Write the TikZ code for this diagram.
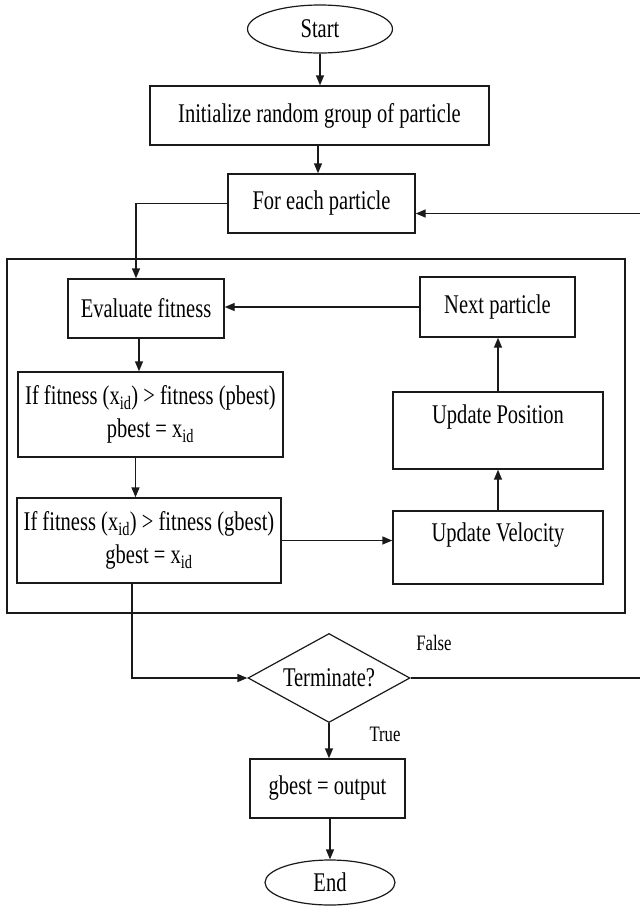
\documentclass[tikz,border=0pt]{standalone}
\usepackage{fontspec}
\setmainfont[FakeStretch=0.76]{Liberation Serif}
\usepackage{xcolor}
\usepackage{tikz}
\usetikzlibrary{arrows.meta,positioning,shapes.geometric}
\definecolor{psoLine}{HTML}{1A1A1A}
\tikzset{
  psobox/.style={draw=psoLine, fill=white, line width=1.4pt,
        align=center, inner sep=2pt,
        font=\fontsize{27}{33}\selectfont},
  psoterm/.style={draw=psoLine, fill=white, line width=1.2pt, ellipse,
        inner sep=0pt, font=\fontsize{27}{31}\selectfont},
  psodec/.style={draw=psoLine, fill=white, line width=1.2pt, diamond,
        aspect=1.8, inner sep=0pt, font=\fontsize{27}{31}\selectfont},
  psotext/.style={font=\fontsize{27}{31}\selectfont, inner sep=0pt},
  flow/.style={-{Triangle[length=10pt,width=8pt]}, line width=1.4pt, draw=psoLine},
  flab/.style={font=\fontsize{22}{26}\selectfont, inner sep=0pt}
}

\begin{document}
\begin{tikzpicture}[x=1pt, y=-1pt]
\useasboundingbox (0,0) rectangle (640,906);

% loop boundary
\node[draw=psoLine, line width=1.4pt, minimum width=618pt, minimum height=354pt,
      inner sep=0pt] (loop) at (316,436) {};

% start and setup
\node[psoterm, minimum width=145pt, minimum height=48pt] (start) at (320,29) {Start};
\node[psobox, minimum width=339pt, minimum height=59pt] (init) at (319.5,115.5)
      {Initialize random group of particle};
\node[psobox, minimum width=187pt, minimum height=59pt] (fep) at (321.5,203.5)
      {For each particle};

% left column
\node[psobox, minimum width=156pt, minimum height=59pt] (evalf) at (146,308.5)
      {Evaluate fitness};
\node[psobox, minimum width=265pt, minimum height=85pt] (pbest) at (150.5,414.5)
      {If fitness (x\textsubscript{id}) > fitness (pbest)\\pbest = x\textsubscript{id}};
\node[psobox, minimum width=264pt, minimum height=85pt] (gbest) at (149,540.5)
      {If fitness (x\textsubscript{id}) > fitness (gbest)\\gbest = x\textsubscript{id}};

% right column
\node[psobox, minimum width=155pt, minimum height=60pt] (nextp) at (497.5,307)
      {Next particle};
\node[psobox, minimum width=210pt, minimum height=77pt] (upos) at (498,430.5) {};
\node[psotext] (upostxt) at ([yshift=14pt]upos.center) {Update Position};
\node[psobox, minimum width=210pt, minimum height=73pt] (uvel) at (498,547.5) {};
\node[psotext] (uveltxt) at ([yshift=12pt]uvel.center) {Update Velocity};

% termination
\node[psodec, minimum width=162pt, minimum height=89pt] (term) at (329,678)
      {Terminate?};
\node[psobox, minimum width=155pt, minimum height=59pt] (outp) at (327.5,788.5)
      {gbest = output};
\node[psoterm, minimum width=130pt, minimum height=45pt] (endn) at (330,882.5) {End};

% branch labels
\node[flab] (lfalse) at (434,643) {False};
\node[flab] (ltrue) at (385,734) {True};

% flow
\draw[flow] (start.south) -- (start.south |- init.north);
\draw[flow] ([xshift=-1.5pt]init.south) -- ([xshift=-1.5pt]init.south |- fep.north);
\draw[flow] (fep.west) -| ([xshift=-10pt]evalf.north);
\draw[flow] ([xshift=-7pt]evalf.south) -- ([xshift=-7pt]evalf.south |- pbest.north);
\draw[flow] ([xshift=-15pt]pbest.south) -- ([xshift=-15pt]pbest.south |- gbest.north);
\draw[flow] (gbest.east) -- (gbest.east -| uvel.west);
\draw[flow] (uvel.north) -- (upos.south);
\draw[flow] (upos.north) -- (upos.north |- nextp.south);
\draw[flow] (nextp.west) -- (nextp.west -| evalf.east);
\draw[flow] ([xshift=-17pt]gbest.south) |- (term.west);
\draw[flow] (term.east) -- ++(232,0) |- ([yshift=-10pt]fep.east);
\draw[flow] (term.south) -- (term.south |- outp.north);
\draw[flow] (outp.south -| endn.north) -- (endn.north);
\end{tikzpicture}
\end{document}
